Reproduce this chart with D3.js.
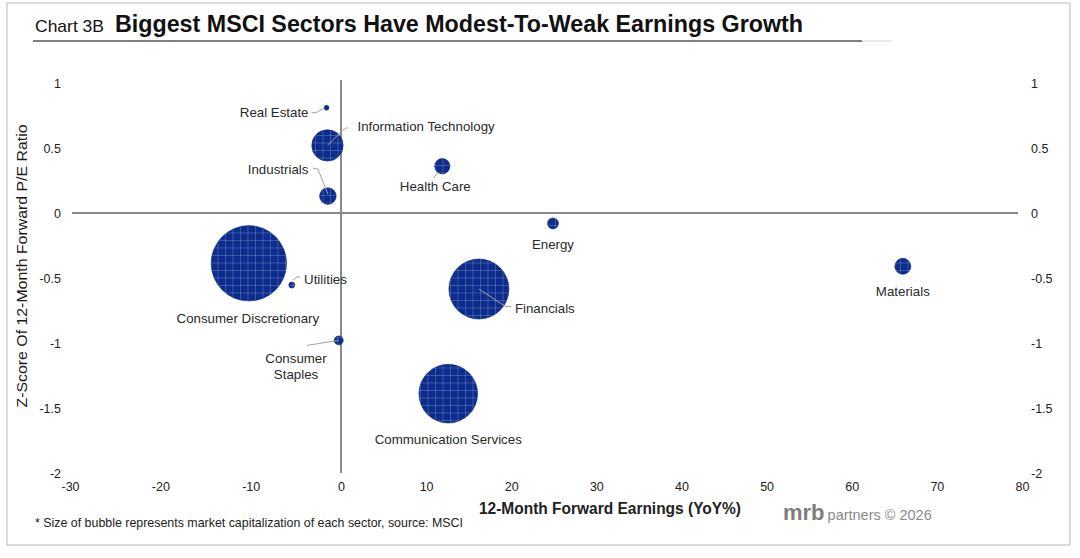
<!DOCTYPE html>
<html><head><meta charset="utf-8">
<script src="https://cdn.jsdelivr.net/npm/d3@7/dist/d3.min.js"></script>
<style>
body{margin:0;background:#fff}
svg{display:block;font-family:"Liberation Sans",Arial,Helvetica,sans-serif}
</style>
</head><body>
<svg id="c" width="1080" height="558"></svg>
<script>
// ---------- data ----------
const sectors = ["Real Estate","Information Technology","Industrials","Health Care","Energy",
  "Financials","Communication Services","Consumer Discretionary","Utilities","Consumer Staples","Materials"];
const earningsGrowth = [-1.6, -1.5, -1.45, 11.9, 24.9, 16.2, 12.6, -10.2, -5.45, -0.25, 66.0];
const peZScore       = [0.81, 0.52, 0.13, 0.36, -0.08, -0.585, -1.39, -0.387, -0.554, -0.98, -0.41];
const marketCap      = [0.06, 2.46, 0.69, 0.59, 0.30, 9.0, 8.6, 14.2, 0.09, 0.20, 0.64];
const xTicks = [-30,-20,-10,0,10,20,30,40,50,60,70,80];
const yTicks = [1,0.5,0,-0.5,-1,-1.5,-2];
const titleSmall = "Chart 3B";
const titleMain = "Biggest MSCI Sectors Have Modest-To-Weak Earnings Growth";
const xTitle = "12-Month Forward Earnings (YoY%)";
const yTitle = "Z-Score Of 12-Month Forward P/E Ratio";
const footnote = "* Size of bubble represents market capitalization of each sector, source: MSCI";

// ---------- layout ----------
const labelLayout = {
  "Real Estate":            {dx:-18, dy:9.5, anchor:"end", leader:[[-15,5],[-10,5],[-2,0]]},
  "Information Technology": {dx:30, dy:-14, anchor:"start", leader:[[0,0],[15,-15],[20,-18]]},
  "Industrials":            {dx:-19.5, dy:-22.5, anchor:"end", leader:[[-15,-28],[-10,-27],[0,-2]]},
  "Health Care":            {dx:-7, dy:25, anchor:"middle", leader:[[-4,6],[-9,12]]},
  "Energy":                 {dx:0, dy:26, anchor:"middle"},
  "Financials":             {dx:36, dy:23.5, anchor:"start", leader:[[0,0],[26,17],[32.7,17.7]]},
  "Communication Services": {dx:0, dy:50.5, anchor:"middle"},
  "Consumer Discretionary": {dx:-1, dy:59.7, anchor:"middle"},
  "Utilities":              {dx:12.3, dy:-1.5, anchor:"start", leader:[[1.3,-5],[5.3,-8],[8.3,-8]]},
  "Consumer Staples":       {dx:-42.7, dy:22.8, anchor:"middle", lines:["Consumer","Staples"], leader:[[-32,5],[0,0]]},
  "Materials":              {dx:0, dy:29.3, anchor:"middle"}
};

const svg = d3.select("#c");
const x = d3.scaleLinear().domain([-30, 0, 80]).range([70, 341, 1022]);
const y = d3.scaleLinear().domain([-2, 1]).range([473, 83]);
const r = d3.scaleSqrt().domain([0, d3.max(marketCap)]).range([0, 37.7]);

// frame
svg.append("rect").attr("x",7).attr("y",3).attr("width",1063).attr("height",542)
  .attr("fill","none").attr("stroke","#c4c4c4").attr("stroke-width",1.2);

// titles
svg.append("text").attr("x",35).attr("y",32).attr("font-size",17).attr("fill","#111")
  .attr("textLength",69).attr("lengthAdjust","spacingAndGlyphs").text(titleSmall);
svg.append("text").attr("x",115).attr("y",32).attr("font-size",23).attr("font-weight","bold").attr("fill","#111")
  .attr("textLength",688).attr("lengthAdjust","spacingAndGlyphs").text(titleMain);
svg.append("line").attr("x1",33).attr("x2",862).attr("y1",41).attr("y2",41).attr("stroke","#555").attr("stroke-width",1.6);
svg.append("line").attr("x1",862).attr("x2",892).attr("y1",41).attr("y2",41).attr("stroke","#ddd").attr("stroke-width",1.2);

// pattern for bubbles
const defs = svg.append("defs");
const pat = defs.append("pattern").attr("id","grid").attr("patternUnits","userSpaceOnUse")
  .attr("width",7.5).attr("height",7.5);
pat.append("rect").attr("width",7.5).attr("height",7.5).attr("fill","#0c2d8d");
pat.append("path").attr("d","M0,0.4H7.5M0.4,0V7.5").attr("stroke","rgba(255,255,255,0.25)").attr("stroke-width",0.8);

// axis lines
svg.append("line").attr("x1",x(-30)+2).attr("x2",x(80)-4).attr("y1",y(0)).attr("y2",y(0))
  .attr("stroke","#8a8a8a").attr("stroke-width",2);
svg.append("line").attr("x1",x(0)).attr("x2",x(0)).attr("y1",y(1)-3).attr("y2",y(-2))
  .attr("stroke","#8a8a8a").attr("stroke-width",2);

// tick labels via axes
const fmt = d => String(d);
const xAxis = svg.append("g").attr("transform","translate(0,482)")
  .call(d3.axisBottom(x).tickValues(xTicks).tickSize(0).tickPadding(0).tickFormat(fmt));
xAxis.select(".domain").remove();
xAxis.selectAll("text").attr("font-size",12.5).attr("fill","#222").attr("font-family",null);

const yL = svg.append("g").attr("transform","translate(61,0)")
  .call(d3.axisLeft(y).tickValues(yTicks).tickSize(0).tickPadding(0).tickFormat(fmt));
yL.select(".domain").remove();
yL.selectAll("text").attr("font-size",12.5).attr("fill","#222").attr("font-family",null);

const yR = svg.append("g").attr("transform","translate(1031,0)")
  .call(d3.axisRight(y).tickValues(yTicks).tickSize(0).tickPadding(0).tickFormat(fmt));
yR.select(".domain").remove();
yR.selectAll("text").attr("font-size",12.5).attr("fill","#222").attr("font-family",null);

// axis titles
svg.append("text").attr("x",610).attr("y",514).attr("text-anchor","middle").attr("font-size",16)
  .attr("font-weight","bold").attr("fill","#222").attr("textLength",262).attr("lengthAdjust","spacingAndGlyphs").text(xTitle);
svg.append("text").attr("transform","translate(27,266) rotate(-90)").attr("text-anchor","middle")
  .attr("font-size",15).attr("fill","#1a1a1a").attr("textLength",283).attr("lengthAdjust","spacingAndGlyphs").text(yTitle);

// data rows
const rows = sectors.map((s,i)=>({name:s, x:earningsGrowth[i], y:peZScore[i], cap:marketCap[i]}));

// bubbles (largest first)
svg.append("g").selectAll("circle").data(rows.slice().sort((a,b)=>b.cap-a.cap)).join("circle")
  .attr("cx",d=>x(d.x)).attr("cy",d=>y(d.y)).attr("r",d=>Math.max(2.2,r(d.cap)))
  .attr("fill","url(#grid)").attr("stroke","#0a2679").attr("stroke-width",0.6);

// leader lines
svg.append("g").selectAll("polyline").data(rows.filter(d=>labelLayout[d.name].leader)).join("polyline")
  .attr("points",d=>labelLayout[d.name].leader.map(p=>[x(d.x)+p[0], y(d.y)+p[1]].join(",")).join(" "))
  .attr("fill","none").attr("stroke","#a0a0a0").attr("stroke-width",1);

// labels
const lg = svg.append("g");
rows.forEach(d=>{
  const L = labelLayout[d.name];
  const t = lg.append("text").attr("x",x(d.x)+L.dx).attr("y",y(d.y)+L.dy).attr("text-anchor",L.anchor)
    .attr("font-size",13.3).attr("fill","#2a2a2a");
  if (L.lines) {
    L.lines.forEach((ln,k)=>t.append("tspan").attr("x",x(d.x)+L.dx).attr("dy",k?16:0).text(ln));
  } else t.text(d.name);
});

// footnote & brand
svg.append("text").attr("x",35).attr("y",527).attr("font-size",13).attr("fill","#222")
  .attr("textLength",428).attr("lengthAdjust","spacingAndGlyphs").text(footnote);
const brand = svg.append("text").attr("x",783).attr("y",520).attr("fill","#7d7d7d");
brand.append("tspan").attr("font-size",22).attr("font-weight","bold").text("mrb");
brand.append("tspan").attr("dx",3).attr("font-size",14.5).attr("fill","#8a8a8a").text("partners © 2026");
</script>
</body></html>
